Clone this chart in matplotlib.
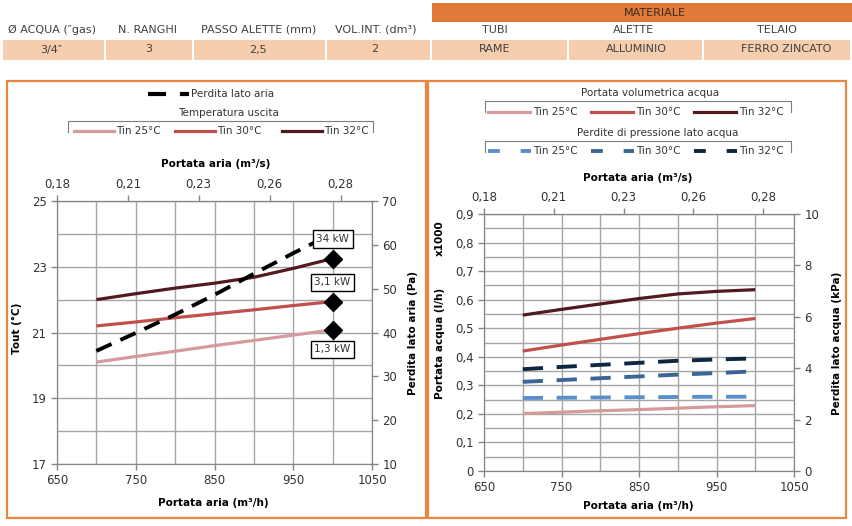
import matplotlib
matplotlib.use('Agg')
import matplotlib.pyplot as plt
from matplotlib.patches import Rectangle
from matplotlib.ticker import MultipleLocator, FixedLocator, FuncFormatter

plt.rcParams['font.family'] = ['DejaVu Sans']
plt.rcParams['lines.scale_dashes'] = False

# --- dati ---
portata_aria = [700, 750, 800, 850, 900, 950, 1000]  # m3/h

# temperatura uscita (°C)
tout_25 = [20.10, 20.27, 20.43, 20.60, 20.76, 20.92, 21.08]
tout_30 = [21.20, 21.32, 21.45, 21.57, 21.69, 21.82, 21.94]
tout_32 = [22.00, 22.18, 22.35, 22.50, 22.68, 22.95, 23.25]
# perdita lato aria (Pa)
perdita_aria = [35.8, 39.9, 44.1, 48.6, 53.4, 58.1, 62.6]
# etichette potenza
potenze = ['1,3 kW', '3,1 kW', '34 kW']

# portata acqua (l/h x1000)
q_25 = [0.201, 0.206, 0.211, 0.215, 0.220, 0.225, 0.229]
q_30 = [0.420, 0.441, 0.461, 0.481, 0.500, 0.518, 0.534]
q_32 = [0.546, 0.566, 0.585, 0.604, 0.620, 0.629, 0.635]
# perdita lato acqua (kPa)
dp_25 = [2.84, 2.85, 2.86, 2.87, 2.88, 2.89, 2.89]
dp_30 = [3.47, 3.54, 3.61, 3.68, 3.75, 3.81, 3.88]
dp_32 = [3.96, 4.05, 4.13, 4.21, 4.29, 4.34, 4.38]

serie_labels = ['Tin 25°C', 'Tin 30°C', 'Tin 32°C']

tab_headers = ['Ø ACQUA (″gas)', 'N. RANGHI', 'PASSO ALETTE (mm)', 'VOL.INT. (dm³)',
               'TUBI', 'ALETTE', 'TELAIO']
tab_values = ['3/4″', '3', '2,5', '2', 'RAME', 'ALLUMINIO', 'FERRO ZINCATO']

# --- stile ---
ROSSI = ['#D79A9C', '#C0504D', '#521A1D']
BLU = ['#5B8FCB', '#3A6595', '#0E2741']
ORANGE = '#E07A38'
PEACH = '#F6CEAE'
FRAME = '#E8873F'
GRID = '#A6A6A6'
SPINE = '#868686'
TXT = '#333333'
FS = 8.5

fig = plt.figure(figsize=(8.52, 5.26), dpi=100)
bg = fig.add_axes([0, 0, 1, 1], zorder=-5)
bg.set_xlim(0, 852)
bg.set_ylim(526, 0)
bg.axis('off')

# tabella in alto
bg.add_patch(Rectangle((432, 3), 420, 19, color=ORANGE, lw=0))
bg.text(655, 13, 'MATERIALE', ha='center', va='center', fontsize=8, color='#3a2a20')
celle = [(3, 104), (106, 192), (194, 325), (327, 430), (432, 567), (569, 702), (704, 850)]
hx = [52, 147, 259, 376, 495, 633, 777]
vx = [51, 149, 258, 375, 495, 636, 786]
for (x0, x1), h, v, a, b in zip(celle, tab_headers, tab_values, hx, vx):
    bg.add_patch(Rectangle((x0, 40), x1 - x0, 20, color=PEACH, lw=0))
    bg.text(a, 30, h, ha='center', va='center', fontsize=8, color='#404040')
    bg.text(b, 49.5, v, ha='center', va='center', fontsize=8, color='#404040')

# cornici
bg.add_patch(Rectangle((7, 80.5), 418.5, 437.5, fill=False, ec=FRAME, lw=1.6))
bg.add_patch(Rectangle((427.5, 80.5), 418, 437.5, fill=False, ec=FRAME, lw=1.6))


def fmt_comma(v, p):
    return f'{v:g}'.replace('.', ',')


def style_axes(ax, ax2):
    for a in (ax, ax2):
        for s in a.spines.values():
            s.set_color(SPINE)
        a.tick_params(colors=SPINE, labelcolor=TXT, labelsize=FS, length=4, width=1)
        a.tick_params(which='minor', length=0)
    ax.grid(True, which='both', color=GRID, lw=1)
    ax.set_axisbelow(True)
    ax.xaxis.set_major_locator(MultipleLocator(100, offset=50))
    ax.xaxis.set_minor_locator(MultipleLocator(50))
    ax.set_xlim(650, 1050)
    top = ax.secondary_xaxis('top', functions=(lambda x: x / 3600, lambda x: x * 3600))
    top.xaxis.set_major_locator(FixedLocator([650 / 3600 + 0.025 * k for k in range(5)]))
    top.xaxis.set_major_formatter(FuncFormatter(lambda v, p: f'{v:.2f}'.replace('.', ',')))
    top.tick_params(colors=SPINE, labelcolor=TXT, labelsize=FS, length=4, width=1)
    top.spines['top'].set_color(SPINE)


# --- grafico sinistro ---
ax = fig.add_axes([57 / 852, 62 / 526, 315 / 852, 263 / 526])
ax2 = ax.twinx()
style_axes(ax, ax2)
ax.set_ylim(17, 25)
ax.yaxis.set_major_locator(MultipleLocator(2, offset=1))
ax.yaxis.set_minor_locator(MultipleLocator(1))
ax.yaxis.set_major_formatter(FuncFormatter(fmt_comma))
ax2.set_ylim(10, 70)
ax2.yaxis.set_major_locator(MultipleLocator(10))

for serie, c in zip([tout_25, tout_30, tout_32], ROSSI):
    ax.plot(portata_aria, serie, color=c, lw=2.3, solid_capstyle='butt')
ax2.plot(portata_aria, perdita_aria, color='black', lw=2.8, dashes=(12, 7))

offs = [-14, 14, 14]
for serie, lab, dy in zip([tout_25, tout_30, tout_32], potenze, offs):
    ax2.plot(portata_aria[-1], serie[-1], 'D', color='black', ms=9, transform=ax.transData, zorder=5)
    ax2.annotate(lab, (portata_aria[-1], serie[-1]), xycoords=ax.transData,
                 xytext=(0, dy), textcoords='offset points', ha='center', va='center',
                 fontsize=7.5, color=TXT, zorder=6,
                 bbox=dict(boxstyle='square,pad=0.35', fc='white', ec='black', lw=1))

# --- grafico destro ---
bx = fig.add_axes([484 / 852, 55 / 526, 310 / 852, 257 / 526])
bx2 = bx.twinx()
style_axes(bx, bx2)
bx.set_ylim(0, 0.9)
bx.yaxis.set_major_locator(MultipleLocator(0.1))
bx.yaxis.set_minor_locator(MultipleLocator(0.05))
bx.yaxis.set_major_formatter(FuncFormatter(fmt_comma))
bx2.set_ylim(0, 10)
bx2.yaxis.set_major_locator(MultipleLocator(2))

for serie, c in zip([q_25, q_30, q_32], ROSSI):
    bx.plot(portata_aria, serie, color=c, lw=2.3, solid_capstyle='butt')
for serie, c in zip([dp_25, dp_30, dp_32], BLU):
    bx2.plot(portata_aria, serie, color=c, lw=2.8, dashes=(14.6, 9.8))

# --- etichette assi ---
lab_kw = dict(ha='center', va='center', fontsize=7.5, fontweight='bold', color='black')
bg.text(216, 164, 'Portata aria (m³/s)', **lab_kw)
bg.text(213, 503, 'Portata aria (m³/h)', **lab_kw)
bg.text(17, 328, 'Tout (°C)', rotation=90, **lab_kw)
bg.text(413, 333, 'Perdita lato aria (Pa)', rotation=90, **lab_kw)
bg.text(638, 178, 'Portata aria (m³/s)', **lab_kw)
bg.text(638, 506, 'Portata aria (m³/h)', **lab_kw)
bg.text(440, 238, 'x1000', rotation=90, **lab_kw)
bg.text(440, 343, 'Portata acqua (l/h)', rotation=90, **lab_kw)
bg.text(837, 343, 'Perdita lato acqua (kPa)', rotation=90, **lab_kw)

# --- legende ---
leg_kw = dict(ha='left', va='center', fontsize=7.5, color=TXT)


def bracket(x0, x1, y):
    bg.plot([x0, x0, x1, x1], [y + 11, y, y, y + 11], color='#7F7F7F', lw=0.8)


bg.plot([148, 189], [94, 94], color='black', lw=3, dashes=(13, 10))
bg.text(191, 94, 'Perdita lato aria', **leg_kw)
bg.text(229, 113, 'Temperatura uscita', ha='center', va='center', fontsize=7.5, color=TXT)
bracket(68, 373, 120.5)
for x0, c, lab in zip([74, 175, 282], ROSSI, serie_labels):
    bg.plot([x0, x0 + 40], [131, 131], color=c, lw=2.3)
    bg.text(x0 + 42, 131, lab, **leg_kw)

bg.text(650, 93, 'Portata volumetrica acqua', ha='center', va='center', fontsize=7.5, color=TXT)
bracket(485, 791, 101)
for x0, c, lab in zip([488, 591, 694], ROSSI, serie_labels):
    bg.plot([x0, x0 + 42], [112, 112], color=c, lw=2.3)
    bg.text(x0 + 45, 112, lab, **leg_kw)

bg.text(658, 133, 'Perdite di pressione lato acqua', ha='center', va='center', fontsize=7.5, color=TXT)
bracket(485, 791, 140.5)
for x0, c, lab in zip([488, 591, 694], BLU, serie_labels):
    bg.plot([x0, x0 + 43], [151, 151], color=c, lw=2.8, dashes=(8.5, 15))
    bg.text(x0 + 45, 151, lab, **leg_kw)

fig.savefig('out.png', dpi=100)
